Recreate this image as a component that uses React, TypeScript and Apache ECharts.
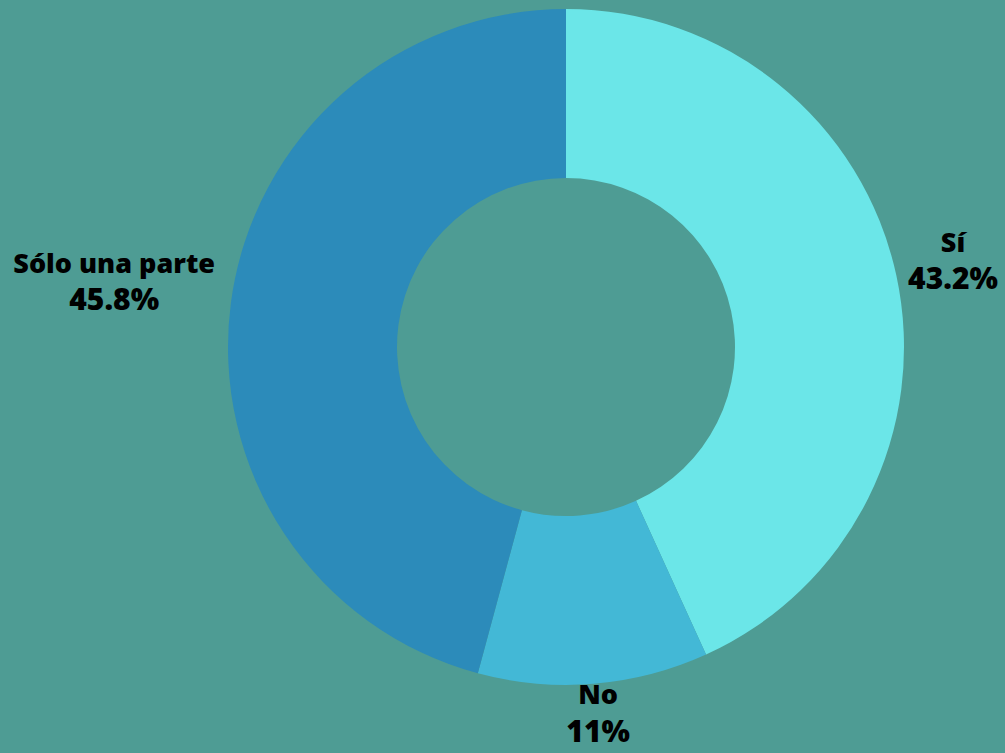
import React, { useEffect, useRef } from "react";
import * as echarts from "echarts";

const categories = ["Sí", "No", "Sólo una parte"];
const values = [43.2, 11, 45.8];
const valueLabels = ["43.2%", "11%", "45.8%"];
const colors = ["#6be6e8", "#43b8d6", "#2c8bba"];
// small nudges of each label block relative to ECharts' default outside layout
const labelNudge = [
  [-2, -15],
  [-33, 18],
  [-2, -22],
];

const nameStyle = { fontFamily: "Open Sans", fontWeight: 800, fontSize: 27, lineHeight: 37, color: "#000" };
const valueStyle = { fontFamily: "Open Sans", fontWeight: 800, fontSize: 30, lineHeight: 36, color: "#000" };

export default function App() {
  const ref = useRef<HTMLDivElement>(null);
  useEffect(() => {
    if (!ref.current) return;
    const chart = echarts.init(ref.current, undefined, { renderer: "svg" });
    chart.setOption({
      animation: false,
      backgroundColor: "#4e9c94",
      series: [
        {
          type: "pie",
          center: [566, 347],
          radius: [169, 338],
          startAngle: 90,
          clockwise: true,
          avoidLabelOverlap: false,
          itemStyle: { borderWidth: 0 },
          label: {
            show: true,
            position: "outside",
            formatter: (p: any) => `{n|${p.name}}\n{v|${valueLabels[p.dataIndex]}}`,
            fontFamily: "Open Sans",
            fontWeight: 800,
            color: "#000000",
            rich: { n: nameStyle, v: valueStyle },
          },
          labelLine: { show: false, length: 9, length2: 0 },
          labelLayout: (p: any) => {
            const r = p.labelRect;
            const [dx, dy] = labelNudge[p.dataIndex];
            return {
              x: r.x + r.width / 2 + dx,
              y: r.y + r.height / 2 + dy,
              align: "center",
              verticalAlign: "middle",
            };
          },
          emphasis: { disabled: true },
          data: categories.map((c, i) => ({
            name: c,
            value: values[i],
            itemStyle: { color: colors[i] },
          })),
        },
      ],
    });
    return () => chart.dispose();
  }, []);
  return (
    <div
      ref={ref}
      style={{ position: "absolute", left: 0, top: 0, width: 1005, height: 753 }}
    />
  );
}
